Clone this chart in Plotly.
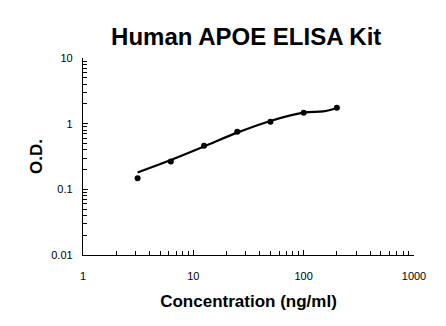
import plotly.graph_objects as go

# Standard points
conc = [3.125, 6.25, 12.5, 25, 50, 100, 200]
od = [0.147, 0.265, 0.46, 0.75, 1.07, 1.47, 1.74]

# Fitted curve
curve_x = [3.125, 6.25, 12.5, 25, 50, 100, 150, 200]
curve_y = [0.181, 0.28, 0.45, 0.73, 1.1, 1.47, 1.54, 1.72]

x_ticks = [1, 10, 100, 1000]
x_tick_labels = ["1", "10", "100", "1000"]
y_ticks = [0.01, 0.1, 1, 10]
y_tick_labels = ["0.01", "0.1", "1", "10"]

FONT = "Liberation Sans, Arial, sans-serif"

fig = go.Figure()
fig.add_trace(go.Scatter(x=curve_x, y=curve_y, mode="lines",
                         line=dict(color="black", width=2.2, shape="spline", smoothing=1.0),
                         hoverinfo="skip", showlegend=False))
fig.add_trace(go.Scatter(x=conc, y=od, mode="markers",
                         marker=dict(color="black", size=6),
                         showlegend=False))

axis_common = dict(
    showline=True, linecolor="black", linewidth=1.3, mirror=False,
    ticks="inside", ticklen=5, tickcolor="black", tickwidth=1,
    showgrid=False, zeroline=False,
    tickfont=dict(family=FONT, size=11, color="black"),
    minor=dict(ticks="inside", ticklen=4, tickcolor="black", tickwidth=1, showgrid=False, dtick="D1"),
)

fig.update_layout(
    width=446, height=326,
    margin=dict(l=83, r=32, t=58, b=71),
    paper_bgcolor="white", plot_bgcolor="white",
    title=dict(text="<b>Human APOE ELISA Kit</b>", x=0.552, xanchor="center", y=0.887, yanchor="middle",
               font=dict(family=FONT, size=24, color="black")),
    xaxis=dict(type="log", range=[0, 3], tickvals=x_ticks, ticktext=x_tick_labels,
               ticklabelstandoff=11,
               title=dict(text="<b>Concentration (ng/ml)</b>", font=dict(family=FONT, size=17, color="black"), standoff=13),
               **axis_common),
    yaxis=dict(type="log", range=[-2, 1], tickvals=y_ticks, ticktext=y_tick_labels,
               ticklabelstandoff=7,
               title=dict(text="<b>O.D.</b>", font=dict(family=FONT, size=17, color="black"), standoff=4),
               **axis_common),
)

fig.write_html("out.html")
